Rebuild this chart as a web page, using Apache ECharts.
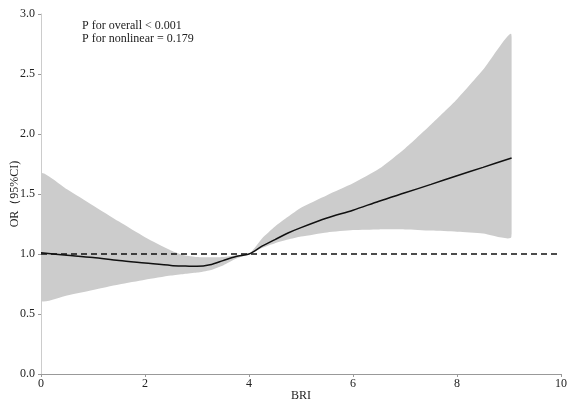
<!DOCTYPE html>
<html>
<head>
<meta charset="utf-8">
<script src="https://cdn.jsdelivr.net/npm/echarts@6/dist/echarts.min.js"></script>
<style>
  html, body { margin: 0; padding: 0; background: #fff; }
  #chart { width: 567px; height: 401px; }
</style>
</head>
<body>
<div id="chart"></div>
<script>
// BRI values along the spline
var bri = [0, 0.5, 1.0, 1.5, 2.0, 2.5, 2.75, 3.0, 3.25, 3.5, 3.75, 4.0, 4.25, 4.5, 4.75, 5.0,
           5.5, 6.0, 6.5, 7.0, 7.5, 8.0, 8.5, 9.05];
// odds ratio (fitted curve)
var orValue = [1.01, 0.99, 0.97, 0.945, 0.925, 0.905, 0.9, 0.897, 0.91, 0.945, 0.98, 1.0, 1.065, 1.12, 1.175, 1.22,
               1.30, 1.365, 1.44, 1.51, 1.58, 1.652, 1.722, 1.80];
// 95% CI bounds
var ciLower = [0.615, 0.655, 0.70, 0.745, 0.785, 0.82, 0.833, 0.845, 0.865, 0.905, 0.96, 1.0, 1.05, 1.09, 1.12, 1.145,
               1.18, 1.20, 1.205, 1.205, 1.195, 1.185, 1.17, 1.144];
var ciUpper = [1.67, 1.54, 1.405, 1.27, 1.14, 1.03, 0.99, 0.975, 0.972, 0.975, 0.99, 1.0, 1.13, 1.23, 1.31, 1.385,
               1.49, 1.589, 1.71, 1.88, 2.08, 2.29, 2.535, 2.83];
var refLine = [[0, 1], [10, 1]];
var pText = ['P for overall < 0.001', 'P for nonlinear = 0.179'];

var serif = '"Liberation Serif", "DejaVu Serif", serif';

function pairs(ys) {
    return bri.map(function (x, i) { return [x, ys[i]]; });
}

// the band is drawn once, as a polygon through both bounds,
// clipped to the BRI range so the smoothed ends stay straight
function renderBand(params, api) {
    if (params.dataIndex !== 0) return null;
    var top = bri.map(function (x, i) { return api.coord([x, ciUpper[i]]); });
    var bottom = bri.map(function (x, i) { return api.coord([x, ciLower[i]]); }).reverse();
    var x0 = api.coord([bri[0], 0])[0];
    var x1 = api.coord([bri[bri.length - 1], 0])[0];
    return {
        type: 'polygon',
        shape: { points: top.concat(bottom), smooth: 0.2 },
        style: { fill: '#cccccc' },
        clipPath: { type: 'rect', shape: { x: x0, y: 0, width: x1 - x0, height: api.getHeight() } }
    };
}

var chart = echarts.init(document.getElementById('chart'));
chart.setOption({
    animation: false,
    backgroundColor: '#ffffff',
    grid: { left: 41, right: 6, top: 14, bottom: 27, containLabel: false, outerBoundsMode: 'none' },
    xAxis: {
        type: 'value', min: 0, max: 10, interval: 2,
        name: 'BRI', nameLocation: 'middle', nameGap: 16, nameMoveOverlap: false,
        nameTextStyle: { fontFamily: serif, fontSize: 12, color: '#222' },
        axisLine: { lineStyle: { color: '#999', width: 1 } },
        axisTick: { show: true, length: 3, lineStyle: { color: '#999' } },
        axisLabel: { fontFamily: serif, fontSize: 12, color: '#222', margin: 4 },
        splitLine: { show: false }
    },
    yAxis: {
        type: 'value', min: 0, max: 3, interval: 0.5,
        name: 'OR（95%CI)', nameLocation: 'middle', nameGap: 20, nameMoveOverlap: false,
        nameTextStyle: { fontFamily: serif, fontSize: 12, color: '#222' },
        axisLine: { show: true, lineStyle: { color: '#ccc', width: 1 } },
        axisTick: { show: true, length: 3, lineStyle: { color: '#999' } },
        axisLabel: { fontFamily: serif, fontSize: 12, color: '#222', margin: 6,
            formatter: function (v) { return v.toFixed(1); } },
        splitLine: { show: false }
    },
    series: [
        {
            type: 'custom', renderItem: renderBand, silent: true, z: 1,
            data: pairs(ciUpper), encode: { x: 0, y: 1 }
        },
        {
            type: 'line', data: refLine, symbol: 'none', silent: true, z: 3,
            lineStyle: { color: '#111', width: 1.5, type: [6, 4] }
        },
        {
            type: 'line', data: pairs(orValue), smooth: 0.3, symbol: 'none', z: 4,
            lineStyle: { color: '#111', width: 1.5 }
        }
    ],
    graphic: [
        {
            type: 'text', left: 82, top: 19,
            style: { text: pText.join('\n'), font: '12px ' + serif, fill: '#222', lineHeight: 13 }
        }
    ]
});
</script>
</body>
</html>
